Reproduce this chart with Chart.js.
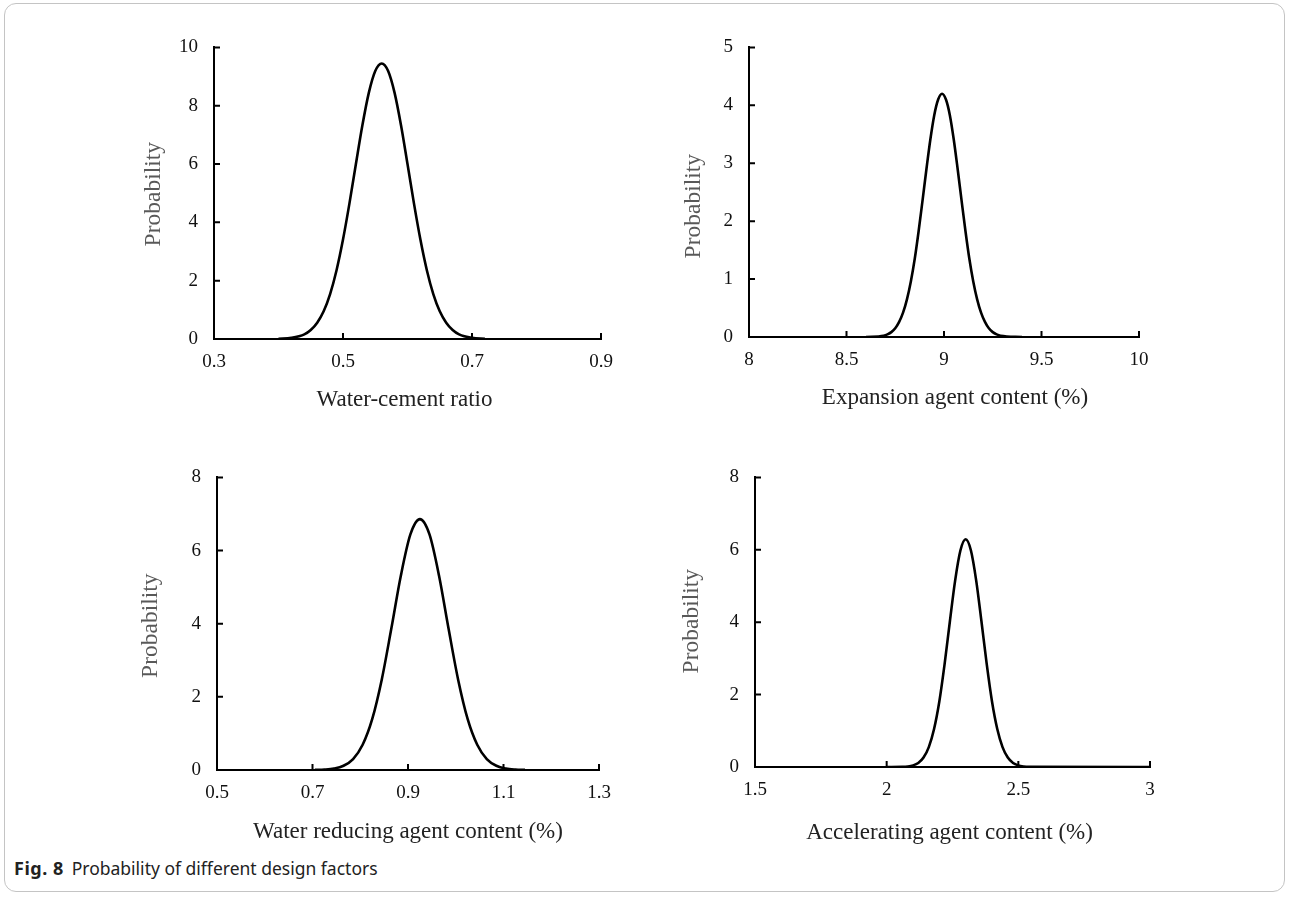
<!DOCTYPE html>
<html>
<head>
<meta charset="utf-8">
<script src="https://cdn.jsdelivr.net/npm/chart.js@4.4.1/dist/chart.umd.min.js"></script>
<style>
  html,body{margin:0;padding:0;background:#fff;}
  body{width:1290px;height:897px;position:relative;overflow:hidden;}
  .frame{position:absolute;left:4px;top:3px;width:1279px;height:887px;border:1px solid #c4c4c4;border-radius:12px;}
  .panel{position:absolute;}
  .caption{position:absolute;left:14px;top:856px;font-family:"Noto Sans",sans-serif;font-size:17.5px;color:#222;}
  .caption b{font-size:18px;font-weight:700;letter-spacing:0.5px;margin-right:8px;}
</style>
</head>
<body>
<div class="frame"></div>
<div class="panel" style="left:130px;top:20px;width:500px;height:400px"><canvas id="c1"></canvas></div>
<div class="panel" style="left:670px;top:20px;width:500px;height:400px"><canvas id="c2"></canvas></div>
<div class="panel" style="left:130px;top:450px;width:500px;height:400px"><canvas id="c3"></canvas></div>
<div class="panel" style="left:670px;top:450px;width:510px;height:400px"><canvas id="c4"></canvas></div>
<div class="caption"><b>Fig. 8</b>Probability of different design factors</div>

<script>
// Water-cement ratio
const wcX = [0.40,0.42,0.44,0.45,0.46,0.47,0.48,0.49,0.50,0.51,0.52,0.53,0.54,0.55,0.56,0.57,0.58,0.59,0.60,0.61,0.62,0.63,0.64,0.65,0.66,0.67,0.68,0.70,0.72];
const wcY = [0.007,0.04,0.16,0.31,0.56,0.95,1.54,2.36,3.41,4.65,6.00,7.32,8.44,9.19,9.45,9.19,8.44,7.32,6.00,4.65,3.41,2.36,1.54,0.95,0.56,0.31,0.16,0.04,0.007];
const wcTicksX = [0.3,0.5,0.7,0.9];
const wcTicksY = [0,2,4,6,8,10];

// Expansion agent content (%)
const eaX = [8.60,8.69,8.71,8.73,8.75,8.77,8.79,8.81,8.83,8.85,8.87,8.89,8.91,8.93,8.95,8.97,8.99,9.01,9.03,9.05,9.07,9.09,9.11,9.13,9.15,9.17,9.19,9.21,9.23,9.25,9.27,9.29,9.40];
const eaY = [0.001,0.023,0.045,0.084,0.15,0.26,0.42,0.65,0.96,1.35,1.83,2.36,2.90,3.41,3.83,4.10,4.20,4.10,3.83,3.41,2.90,2.36,1.83,1.35,0.96,0.65,0.42,0.26,0.15,0.084,0.045,0.023,0.001];
const eaTicksX = [8,8.5,9,9.5,10];
const eaTicksY = [0,1,2,3,4,5];

// Water reducing agent content (%)
const wrX = [0.705,0.725,0.745,0.765,0.785,0.805,0.825,0.845,0.865,0.885,0.905,0.925,0.945,0.965,0.985,1.005,1.025,1.045,1.065,1.085,1.105,1.125,1.145];
const wrY = [0.003,0.012,0.039,0.116,0.30,0.69,1.39,2.47,3.86,5.31,6.44,6.86,6.44,5.31,3.86,2.47,1.39,0.69,0.30,0.116,0.039,0.012,0.003];
const wrTicksX = [0.5,0.7,0.9,1.1,1.3];
const wrTicksY = [0,2,4,6,8];

// Accelerating agent content (%)
const acX = [2.00,2.06,2.08,2.10,2.12,2.14,2.16,2.18,2.20,2.22,2.24,2.26,2.28,2.30,2.32,2.34,2.36,2.38,2.40,2.42,2.44,2.46,2.48,2.50,2.52,2.54,3.00];
const acY = [0,0.005,0.015,0.043,0.11,0.26,0.55,1.05,1.81,2.84,4.02,5.15,5.98,6.29,5.98,5.15,4.02,2.84,1.81,1.05,0.55,0.26,0.11,0.043,0.015,0.005,0];
const acTicksX = [1.5,2,2.5,3];
const acTicksY = [0,2,4,6,8];

const serif = '"Liberation Serif", "Times New Roman", serif';

// ticks pointing inward from the axes
const innerTicks = {
  id:'innerTicks',
  afterDraw(chart){
    const {ctx, chartArea:a, scales:{x,y}} = chart;
    ctx.save();
    ctx.strokeStyle = '#000';
    ctx.lineWidth = 2;
    ctx.beginPath();
    x.ticks.forEach(t=>{ const px = x.getPixelForValue(t.value); ctx.moveTo(px,a.bottom); ctx.lineTo(px,a.bottom-6); });
    y.ticks.forEach(t=>{ const py = y.getPixelForValue(t.value); ctx.moveTo(a.left,py); ctx.lineTo(a.left+6,py); });
    ctx.stroke();
    ctx.restore();
  }
};

// axis titles, placed like in the original figure (some are a bit off centre)
const axisTitles = {
  id:'axisTitles',
  afterDraw(chart, args, o){
    const {ctx, chartArea:a} = chart;
    ctx.save();
    ctx.font = '23px ' + serif;
    ctx.textAlign = 'center';
    ctx.textBaseline = 'middle';
    ctx.fillStyle = '#222';
    ctx.fillText(o.xText, (a.left+a.right)/2 + o.xdx, o.xy);
    ctx.translate(o.yx, (a.top+a.bottom)/2 + o.ydy);
    ctx.rotate(-Math.PI/2);
    ctx.font = '23.5px ' + serif;
    ctx.fillStyle = '#595959';
    ctx.fillText('Probability', 0, 0);
    ctx.restore();
  }
};

function makeChart(id, xs, ys, ticksX, ticksY, xTitle, box){
  const pts = xs.map((v,i)=>({x:v,y:ys[i]}));
  new Chart(document.getElementById(id),{
    type:'line',
    data:{datasets:[{data:pts,borderColor:'#000',borderWidth:2.6,pointRadius:0,fill:false,cubicInterpolationMode:'monotone'}]},
    plugins:[innerTicks, axisTitles],
    options:{
      responsive:true, maintainAspectRatio:false, animation:false,
      layout:{padding:{top:box.pt,right:box.pr,left:0,bottom:0}},
      plugins:{
        legend:{display:false}, tooltip:{enabled:false},
        axisTitles:{xText:xTitle, xdx:box.xdx, xy:box.xy, yx:box.yx, ydy:box.ydy}
      },
      scales:{
        x:{
          type:'linear', min:ticksX[0], max:ticksX[ticksX.length-1],
          afterBuildTicks:s=>{ s.ticks = ticksX.map(v=>({value:v})); },
          afterFit:s=>{ s.height = box.xh; },
          grid:{display:false,drawTicks:false},
          border:{display:true,color:'#000',width:2},
          ticks:{color:'#111',padding:12,maxRotation:0,font:{family:serif,size:19},callback:v=>String(v)}
        },
        y:{
          min:ticksY[0], max:ticksY[ticksY.length-1],
          afterBuildTicks:s=>{ s.ticks = ticksY.map(v=>({value:v})); },
          afterFit:s=>{ s.width = box.yw; },
          grid:{display:false,drawTicks:false},
          border:{display:true,color:'#000',width:2},
          ticks:{color:'#111',padding:16,font:{family:serif,size:19},callback:v=>String(v)}
        }
      }
    }
  });
}

makeChart('c1', wcX, wcY, wcTicksX, wcTicksY, 'Water-cement ratio', {pt:18,pr:29,yw:84,xh:81,xdx:-3,xy:380,yx:24,ydy:1});
makeChart('c2', eaX, eaY, eaTicksX, eaTicksY, 'Expansion agent content (%)', {pt:23,pr:31,yw:79,xh:83,xdx:11,xy:378,yx:24,ydy:14});
makeChart('c3', wrX, wrY, wrTicksX, wrTicksY, 'Water reducing agent content (%)', {pt:24,pr:31,yw:87,xh:80,xdx:0,xy:382,yx:21,ydy:2});
makeChart('c4', acX, acY, acTicksX, acTicksY, 'Accelerating agent content (%)', {pt:18,pr:30,yw:85,xh:83,xdx:-3,xy:383,yx:22,ydy:-1});
</script>
</body>
</html>
